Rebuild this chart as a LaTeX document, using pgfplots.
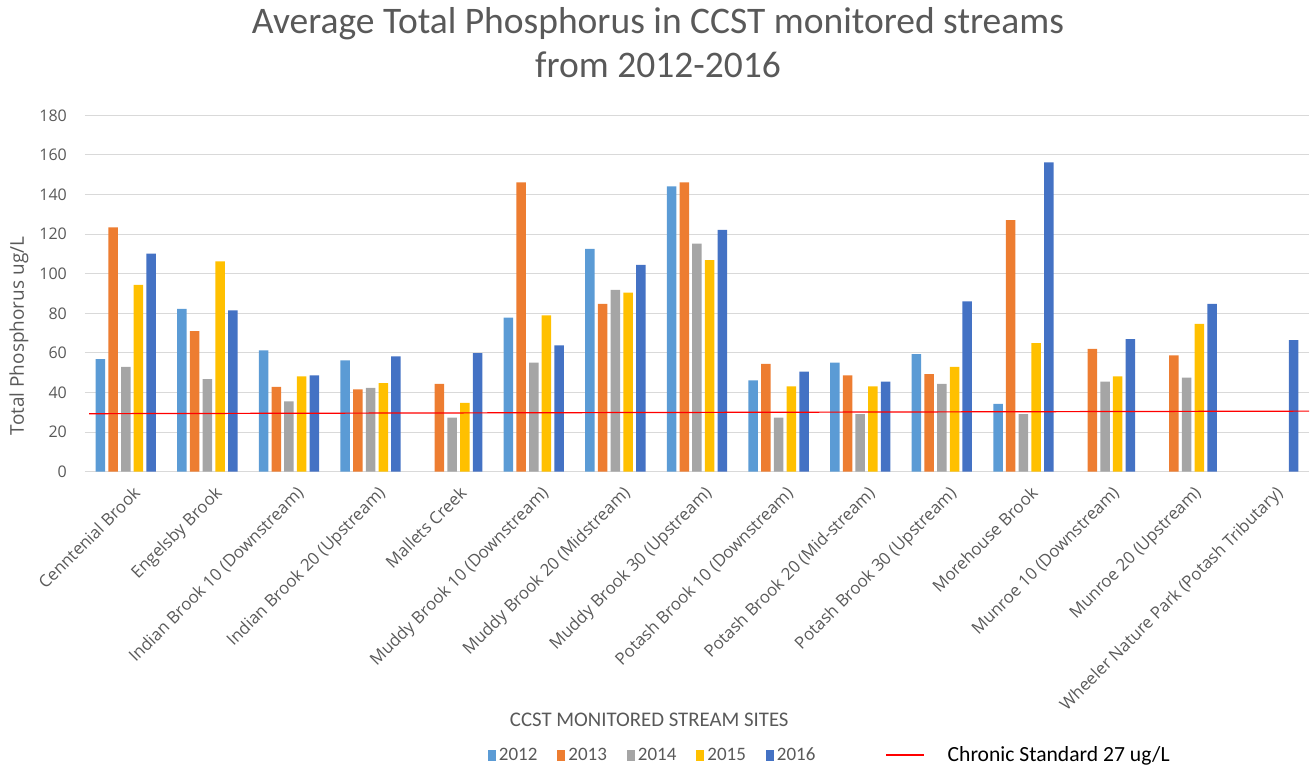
\documentclass[border=0pt]{standalone}
\usepackage{fontspec}
\setmainfont{Carlito}
\newfontfamily\osans{Open Sans}
\usepackage{pgfplots}
\pgfplotsset{compat=1.18}
\usetikzlibrary{calc}
\definecolor{c12}{HTML}{5B9BD5}
\definecolor{c13}{HTML}{ED7D31}
\definecolor{c14}{HTML}{A5A5A5}
\definecolor{c15}{HTML}{FFC000}
\definecolor{c16}{HTML}{4472C4}
\definecolor{txt}{HTML}{595959}
\definecolor{gridc}{HTML}{D9D9D9}
\pgfplotsset{
  sqleg/.style={legend image code/.code={\path[##1,draw=none] (0pt,-5.5pt) rectangle (8pt,5.5pt);}},
  lineleg/.style={legend image code/.code={\draw[##1] (0pt,0pt) -- (38pt,0pt);}},
}
\begin{document}
\begin{tikzpicture}
\begin{axis}[
  scale only axis, width=1224pt, height=356.4pt,
  ybar=3.2pt, bar width=9.5pt,
  xmin=-0.5, xmax=14.5, ymin=0, ymax=180,
  enlargelimits=false,
  axis line style={draw=none},
  major tick length=0pt,
  ymajorgrids, grid style={gridc, line width=1pt},
  ytick={0,20,...,180},
  xtick={0,...,14},
  xticklabels={Cenntenial Brook, Engelsby Brook, Indian Brook 10 (Downstream), Indian Brook 20 (Upstream), Mallets Creek, Muddy Brook 10 (Downstream), Muddy Brook 20 (Midstream), Muddy Brook 30 (Upstream), Potash Brook 10 (Downstream), Potash Brook 20 (Mid-stream), Potash Brook 30 (Upstream), Morehouse Brook, Munroe 10 (Downstream), Munroe 20 (Upstream), Wheeler Nature Park (Potash Tributary)},
  /pgf/number format/assume math mode=true,
  yticklabel style={font=\osans\fontsize{16}{18}\selectfont, text=txt, anchor=east, inner sep=0pt, xshift=-18pt},
  xticklabel style={font=\osans\fontsize{16.8}{19}\selectfont, text=txt, rotate=45, anchor=north east, inner sep=0pt, yshift=-14pt, xshift=-5pt},
  ylabel={Total Phosphorus ug/L},
  ylabel style={font=\osans\fontsize{19}{22}\selectfont, text=txt, at={(axis description cs:-0.054,0.381)}, anchor=center, rotate=0},
  xlabel={CCST MONITORED STREAM SITES},
  xlabel style={font=\fontsize{20.8}{24}\selectfont, text=txt, at={(axis description cs:0.461,-0.697)}, anchor=center},
  legend columns=6,
  legend cell align=left,
  legend style={at={(axis description cs:0.329,-0.795)}, anchor=west, draw=none, fill=none, inner sep=0pt,
    font=\fontsize{19}{22}\selectfont, text=txt,
    nodes={inner sep=3pt},
    /tikz/every even column/.append style={column sep=17pt}},
  every axis plot/.append style={draw=none},
]
\addplot[fill=c12, sqleg] coordinates {(0,56.9) (1,82.2) (2,61.3) (3,56.2) (5,77.8) (6,112.5) (7,144.1) (8,46.1) (9,55.1) (10,59.4) (11,34.2)};
\addplot[fill=c13, sqleg] coordinates {(0,123.4) (1,71.0) (2,42.9) (3,41.6) (4,44.3) (5,146.1) (6,84.7) (7,146.1) (8,54.4) (9,48.7) (10,49.3) (11,127.1) (12,62.0) (13,58.8)};
\addplot[fill=c14, sqleg] coordinates {(0,53.0) (1,46.8) (2,35.5) (3,42.4) (4,27.3) (5,55.1) (6,91.8) (7,115.2) (8,27.3) (9,29.1) (10,44.3) (11,29.1) (12,45.5) (13,47.5)};
\addplot[fill=c15, sqleg] coordinates {(0,94.3) (1,106.2) (2,48.1) (3,44.8) (4,34.7) (5,79.0) (6,90.4) (7,106.9) (8,43.1) (9,43.1) (10,53.0) (11,65.0) (12,48.1) (13,74.6)};
\addplot[fill=c16, sqleg] coordinates {(0,110.1) (1,81.5) (2,48.7) (3,58.2) (4,59.9) (5,63.8) (6,104.4) (7,122.1) (8,50.5) (9,45.5) (10,86.0) (11,156.2) (12,67.0) (13,84.7) (14,66.5)};
\addplot[sharp plot, draw=red, line width=1.2pt, lineleg] coordinates {(-0.45,29.3) (14.5,30.6)};
\legend{2012,2013,2014,2015,{2016\hspace*{50pt}},{\color{black}\fontsize{21.6}{26}\selectfont\hspace*{20pt}Chronic Standard 27 ug/L}}
\coordinate (ll) at (rel axis cs:0,0);
\end{axis}
\pgfresetboundingbox
\path[use as bounding box] ($(ll)+(-85pt,-294.3pt)$) rectangle +(1310pt,766pt);
\node[anchor=base, font=\fontsize{37.5}{40}\selectfont, text=txt] at ($(ll)+(573pt,437.7pt)$) {Average Total Phosphorus in CCST monitored streams};
\node[anchor=base, font=\fontsize{37.5}{40}\selectfont, text=txt] at ($(ll)+(573pt,393.7pt)$) {from 2012-2016};
\end{tikzpicture}
\end{document}
